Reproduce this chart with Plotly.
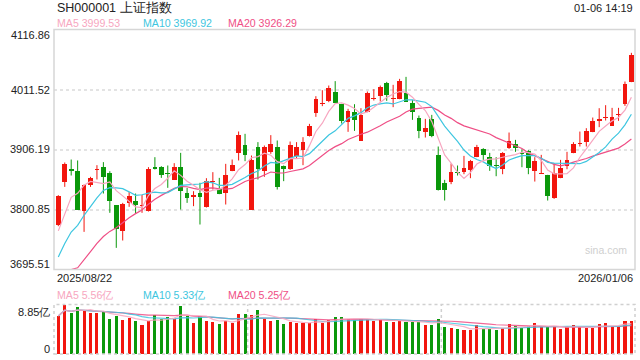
import numpy as np
import pandas as pd
import plotly.graph_objects as go

# ---------------- data ----------------
first_date = "2025/08/22"
last_date = "2026/01/06"
stamp = "01-06 14:19"

opens = [3773.3, 3848.8, 3871.7, 3869.3, 3797.9, 3843.0, 3869.9, 3876.3, 3865.8, 3807.9,
         3762.8, 3812.5, 3816.6, 3806.7, 3797.9, 3876.3, 3875.5, 3865.2, 3853.5, 3875.7,
         3830.1, 3822.5, 3830.1, 3804.9, 3850.0, 3837.1, 3829.5, 3869.3, 3899.2, 3914.4,
         3800.8, 3910.9, 3868.1, 3901.5, 3910.9, 3876.9, 3871.1, 3895.6, 3905.0, 3929.6,
         3970.0, 3985.8, 3991.0, 4008.0, 3985.2, 3954.2, 3972.3, 3921.9, 3972.9, 3994.5,
         4000.9, 4023.8, 3995.7, 3995.1, 4006.2, 3988.7, 3961.7, 3937.7, 3960.0, 3896.8,
         3847.6, 3850.0, 3866.9, 3866.9, 3870.4, 3893.9, 3907.3, 3892.7, 3879.8, 3872.8,
         3909.7, 3915.5, 3900.3, 3903.8, 3868.7, 3864.0, 3861.7, 3821.9, 3857.0, 3878.1,
         3900.9, 3916.1, 3920.2, 3937.7, 3957.1, 3962.3, 3948.3, 3967.0, 3985.7, 4025.5]
highs = [3826.0, 3883.4, 3888.6, 3886.9, 3844.7, 3858.2, 3878.7, 3884.0, 3868.1, 3808.5,
         3812.5, 3831.3, 3828.9, 3826.6, 3875.2, 3892.7, 3876.9, 3878.1, 3882.2, 3900.3,
         3838.9, 3833.0, 3847.7, 3855.8, 3866.4, 3856.4, 3881.0, 3888.6, 3937.8, 3933.7,
         3895.6, 3919.1, 3913.2, 3931.4, 3922.0, 3878.1, 3920.2, 3919.1, 3927.8, 3951.2,
         3999.8, 4010.3, 4018.5, 4026.2, 3986.3, 3977.6, 3985.7, 3978.7, 4008.0, 4012.1,
         4018.5, 4024.9, 4019.7, 4030.2, 4033.7, 3992.8, 3965.8, 3960.0, 3967.0, 3911.4,
         3852.9, 3881.6, 3878.1, 3895.0, 3888.0, 3914.3, 3908.5, 3900.3, 3892.7, 3901.5,
         3936.0, 3923.1, 3906.7, 3905.0, 3892.7, 3896.8, 3861.7, 3882.2, 3888.0, 3902.1,
         3919.0, 3937.7, 3943.6, 3962.3, 3978.7, 3984.0, 3979.3, 3979.3, 4025.5, 4075.9]
lows = [3771.6, 3840.6, 3860.5, 3800.0, 3761.6, 3840.6, 3853.5, 3828.9, 3795.0, 3733.5,
        3746.4, 3805.5, 3793.8, 3795.0, 3797.3, 3871.1, 3856.4, 3838.9, 3852.9, 3800.8,
        3812.5, 3806.7, 3774.5, 3804.3, 3835.9, 3827.7, 3809.6, 3868.1, 3886.9, 3885.7,
        3800.3, 3853.5, 3858.2, 3898.6, 3835.9, 3850.6, 3870.5, 3889.8, 3878.7, 3929.0,
        3963.5, 3982.3, 3989.3, 3987.5, 3951.8, 3937.2, 3938.9, 3921.3, 3971.7, 3992.2,
        3990.4, 3991.6, 3980.5, 3994.5, 3989.8, 3958.2, 3926.0, 3927.2, 3927.8, 3834.2,
        3816.6, 3845.3, 3860.5, 3862.8, 3855.8, 3892.7, 3888.0, 3868.7, 3859.3, 3862.8,
        3907.3, 3902.1, 3875.1, 3862.8, 3849.9, 3863.5, 3816.6, 3819.5, 3855.8, 3871.6,
        3899.7, 3911.4, 3911.4, 3936.6, 3945.4, 3957.1, 3947.7, 3956.5, 3982.8, 4024.4]
closes = [3823.7, 3881.6, 3868.7, 3800.8, 3843.0, 3857.0, 3872.2, 3858.2, 3815.5, 3766.9,
          3810.8, 3825.4, 3808.5, 3809.6, 3872.8, 3872.2, 3861.1, 3862.9, 3874.6, 3833.0,
          3820.7, 3826.6, 3822.5, 3851.7, 3851.7, 3828.3, 3861.7, 3879.8, 3932.5, 3896.2,
          3888.6, 3871.1, 3910.3, 3915.0, 3839.5, 3871.1, 3914.4, 3910.9, 3920.2, 3948.3,
          3995.1, 3987.5, 4014.5, 3988.1, 3955.9, 3974.1, 3958.2, 3967.0, 4005.6, 3996.3,
          4016.7, 4002.1, 3997.4, 4027.3, 3990.4, 3972.9, 3938.9, 3943.6, 3930.1, 3835.3,
          3835.3, 3866.9, 3864.6, 3874.0, 3886.8, 3910.8, 3896.8, 3878.1, 3876.9, 3900.3,
          3921.4, 3909.7, 3898.5, 3874.5, 3886.3, 3865.8, 3824.8, 3865.8, 3874.0, 3888.0,
          3916.7, 3918.4, 3938.9, 3956.5, 3960.0, 3964.1, 3962.9, 3968.8, 4021.4, 4072.3]
# closes of the 19 sessions before the window (only used to warm up the moving averages)
prior_closes = [3597.9, 3609.7, 3615.7, 3573.2, 3559.9, 3583.3, 3617.6, 3634.0, 3639.7, 3635.1,
                3647.5, 3665.9, 3683.5, 3666.4, 3696.8, 3728.0, 3727.3, 3766.2, 3771.1]
# volume, unit 亿
volumes = [6.79, 8.85, 7.27, 8.40, 7.75, 7.39, 7.39, 7.45, 6.32, 6.85,
           6.08, 6.44, 5.90, 5.19, 5.96, 6.97, 6.32, 6.62, 6.32, 8.64,
           6.85, 5.60, 6.85, 5.90, 5.78, 5.36, 5.90, 5.60, 7.21, 7.21,
           6.91, 7.87, 6.32, 5.96, 6.08, 5.42, 5.78, 5.48, 5.60, 5.60,
           6.26, 5.60, 6.08, 6.62, 6.62, 6.20, 6.08, 6.20, 6.32, 5.90,
           6.20, 5.78, 5.78, 5.90, 5.78, 5.78, 5.78, 5.19, 5.19, 6.26,
           4.83, 4.65, 4.47, 4.29, 4.29, 5.19, 4.47, 4.53, 4.29, 4.65,
           5.36, 5.01, 4.71, 5.01, 5.54, 4.83, 4.83, 5.01, 4.47, 4.83,
           5.19, 4.83, 4.65, 4.65, 5.36, 5.54, 5.01, 4.83, 5.90, 5.90]

price_ticks = [3695.51, 3800.85, 3906.19, 4011.52, 4116.86]
price_tick_text = ["3695.51", "3800.85", "3906.19", "4011.52", "4116.86"]
vol_max = 8.85
ma_legend = ["MA5 3999.53", "MA10 3969.92", "MA20 3926.29"]
vol_legend = ["MA5 5.56亿", "MA10 5.33亿", "MA20 5.25亿"]

# ---------------- styling ----------------
W, H = 640, 360
RED, GREEN = "#f2160e", "#0b980b"
C_MA5, C_MA10, C_MA20 = "#f7a6c0", "#3ec6e0", "#ef4f86"
FONT = "Liberation Sans, Arial, sans-serif"
GRID = "#e3e3e3"
BORDER = "#d6d6d6"

X0, X1 = 54.0, 635.0          # plot left/right in px
MT, MB = 29.5, 269.5          # main panel top/bottom px
VT, VB = 304.5, 354.0         # volume panel top/bottom px

def px(v):
    return v / W

def py(v):
    return 1 - v / H

n = len(closes)
idx = np.arange(n)
o = np.array(opens); c = np.array(closes); hi = np.array(highs); lo = np.array(lows)
up = c >= o
colors = [RED if u else GREEN for u in up]

allc = pd.Series(prior_closes + closes)
ma5 = allc.rolling(5).mean().values[-n:]
ma10 = allc.rolling(10).mean().values[-n:]
ma20 = allc.rolling(20).mean().values[-n:]
ymin, ymax = price_ticks[0], price_ticks[-1]
ma20_draw = np.maximum(ma20, ymin)

vs = pd.Series(volumes)
vma5 = vs.rolling(5, min_periods=1).mean().values
vma10 = vs.rolling(10, min_periods=1).mean().values
vma20 = vs.rolling(20, min_periods=1).mean().values

fig = go.Figure()

# wicks
for flag, col in ((True, RED), (False, GREEN)):
    xs, ys = [], []
    for i in idx:
        if up[i] == flag:
            xs += [i, i, None]
            ys += [lo[i], hi[i], None]
    fig.add_trace(go.Scatter(x=xs, y=ys, mode="lines", line=dict(color=col, width=1),
                             hoverinfo="skip", showlegend=False, xaxis="x", yaxis="y"))

# bodies
body_h = np.maximum(np.abs(c - o), 1.6)
body_b = np.minimum(o, c)
fig.add_trace(go.Bar(x=idx, y=body_h, base=body_b, width=0.74, marker=dict(color=colors, line=dict(width=0)),
                     showlegend=False, xaxis="x", yaxis="y"))

# moving averages
for vals, col in ((ma20_draw, C_MA20), (ma10, C_MA10), (ma5, C_MA5)):
    fig.add_trace(go.Scatter(x=idx, y=vals, mode="lines", line=dict(color=col, width=1.2),
                             showlegend=False, xaxis="x", yaxis="y"))

# volume
fig.add_trace(go.Bar(x=idx, y=volumes, width=0.48, marker=dict(color=colors, line=dict(width=0)),
                     showlegend=False, xaxis="x2", yaxis="y2"))
for vals, col in ((vma20, C_MA20), (vma10, C_MA10), (vma5, C_MA5)):
    fig.add_trace(go.Scatter(x=idx, y=vals, mode="lines", line=dict(color=col, width=1.2),
                             opacity=0.85, showlegend=False, xaxis="x2", yaxis="y2"))

xr = [-0.67, n - 1 + 0.56]
fig.update_layout(
    width=W, height=H, margin=dict(l=0, r=0, t=0, b=0),
    paper_bgcolor="white", plot_bgcolor="white", barmode="overlay", bargap=0,
    xaxis=dict(domain=[px(X0), px(X1)], range=xr, visible=False, fixedrange=True),
    yaxis=dict(domain=[py(MB), py(MT)], range=[ymin, ymax], tickvals=price_ticks,
               showticklabels=False, showgrid=True, gridcolor=GRID, griddash="dot", gridwidth=2,
               zeroline=False, showline=False, ticks=""),
    xaxis2=dict(domain=[px(X0), px(X1)], range=xr, visible=False, anchor="y2", fixedrange=True),
    yaxis2=dict(domain=[py(VB), py(VT)], range=[0, vol_max], showticklabels=False,
                showgrid=False, zeroline=False, showline=False, anchor="x2"),
    font=dict(family=FONT, color="#222"),
)

shapes = [
    dict(type="rect", xref="paper", yref="paper", x0=px(X0), x1=px(X1), y0=py(MB), y1=py(MT),
         line=dict(color=BORDER, width=1.5), layer="above"),
    dict(type="rect", xref="paper", yref="paper", x0=px(X0), x1=px(X1), y0=py(VB), y1=py(VT),
         line=dict(color="#d0d0d0", width=1.5, dash="dot"), layer="above"),
]
for frac in (1 / 3, 2 / 3):
    xx = px(X0 + (X1 - X0) * frac)
    shapes.append(dict(type="line", xref="paper", yref="paper", x0=xx, x1=xx, y0=py(VB), y1=py(VT),
                       line=dict(color="#d0d0d0", width=1.5, dash="dot"), layer="below"))
fig.update_layout(shapes=shapes)

ann = []

def text(x, y, s, size, color="#222", xanchor="left"):
    ann.append(dict(x=px(x), y=py(y), xref="paper", yref="paper", text=s, showarrow=False,
                    xanchor=xanchor, yanchor="middle", font=dict(size=size, color=color, family=FONT)))

text(54.5, 7.5, "SH000001 上证指数", 12.5)
text(635, 7.5, stamp, 11, xanchor="right")
for x, s, col in zip((54.5, 140.5, 225.5), ma_legend, (C_MA5, C_MA10, C_MA20)):
    text(x, 23.5, s, 10.6, col)
# price tick labels (ends nudged inside the panel)
for v, s in zip(price_ticks, price_tick_text):
    yy = MB - (v - ymin) / (ymax - ymin) * (MB - MT)
    if v == ymax:
        yy += 5.5
    elif v == ymin:
        yy -= 5.5
    text(51.5, yy, s, 11, "#222", xanchor="right")
text(54.5, 277.5, first_date, 11)
text(635, 277.5, last_date, 11, xanchor="right")
text(583, 249.5, "sina.com", 10.5, "#cfcfcf")
for x, s, col in zip((54.5, 140.5, 225.5), vol_legend, (C_MA5, C_MA10, C_MA20)):
    text(x, 295, s, 10.6, col)
text(51.5, 311.7, "8.85亿", 11, xanchor="right")
text(51.5, 349, "0", 11, xanchor="right")
fig.update_layout(annotations=ann)

fig.write_html(
    "out.html",
    config={"displayModeBar": False, "staticPlot": True},
    post_script="document.body.style.margin='0';document.body.style.padding='0';"
                "document.documentElement.style.overflow='hidden';",
)
